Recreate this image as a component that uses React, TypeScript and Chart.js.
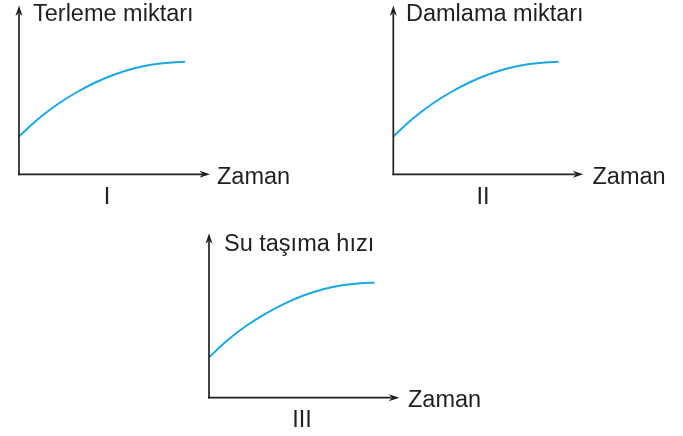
import React, { useEffect, useRef } from "react";
import { Chart, registerables } from "chart.js";

Chart.register(...registerables);

// ---- data ----
const zaman = [0, 1, 2, 3, 4, 5, 6, 7, 8, 8.7];
const terleme = [37.8, 55.3, 69.8, 81.8, 91.8, 99.8, 105.8, 109.8, 111.8, 112.5];
const damlama = [37.8, 55.3, 69.8, 81.8, 91.8, 99.8, 105.8, 109.8, 111.8, 112.5];
const suTasima = [40.4, 57.9, 72.4, 84.4, 94.4, 102.4, 108.4, 112.4, 114.4, 115];
const xAxisLabel = "Zaman";
const yLabels = ["Terleme miktarı", "Damlama miktarı", "Su taşıma hızı"];
const numerals = ["I", "II", "III"];
const series = [terleme, damlama, suTasima];

// ---- layout (positions / styles) ----
type Panel = {
  left: number; top: number; width: number; height: number;
  pad: { left: number; top: number; right: number; bottom: number };
  xMax: number; yMax: number;
  yLabelX: number; yLabelY: number;
  zamanX: number; zamanY: number;
  numX: number; numY: number;
};

const panels: Panel[] = [
  {
    left: 0, top: 0, width: 300, height: 215,
    pad: { left: 19, top: 5.5, right: 90, bottom: 40.7 },
    xMax: 10, yMax: 168.8,
    yLabelX: 33, yLabelY: 21,
    zamanX: 217, zamanY: 183.5,
    numX: 107, numY: 204,
  },
  {
    left: 370, top: 0, width: 313, height: 215,
    pad: { left: 23.3, top: 5.5, right: 99.7, bottom: 40.7 },
    xMax: 10, yMax: 168.8,
    yLabelX: 36, yLabelY: 21,
    zamanX: 222.5, zamanY: 183.5,
    numX: 113, numY: 204,
  },
  {
    left: 190, top: 220, width: 310, height: 216,
    pad: { left: 19, top: 13.3, right: 100.7, bottom: 38.3 },
    xMax: 10, yMax: 164.4,
    yLabelX: 34, yLabelY: 30.7,
    zamanX: 218, zamanY: 187.3,
    numX: 112, numY: 207.3,
  },
];

const INK = "#231f20";
const BLUE = "#1ba8e2";
const FONT = '23.5px "Liberation Sans", Arial, Helvetica, sans-serif';

function arrow(ctx: CanvasRenderingContext2D, tx: number, ty: number, dx: number, dy: number) {
  // tip at (tx,ty); (dx,dy) unit direction of arrow pointing
  const len = 10.5;
  const half = 3.5;
  const notch = 3;
  const px = -dy, py = dx;
  const bx = tx - dx * len, by = ty - dy * len;
  ctx.beginPath();
  ctx.moveTo(tx, ty);
  ctx.lineTo(bx + px * half, by + py * half);
  ctx.lineTo(bx + dx * notch, by + dy * notch);
  ctx.lineTo(bx - px * half, by - py * half);
  ctx.closePath();
  ctx.fill();
}

function makeDecor(i: number) {
  const p = panels[i];
  return {
    id: "decor" + i,
    afterDraw(chart: any) {
      const { ctx, chartArea } = chart;
      const { left, right, top, bottom } = chartArea;
      ctx.save();
      ctx.strokeStyle = INK;
      ctx.fillStyle = INK;
      ctx.lineWidth = 1.7;
      // y axis
      ctx.beginPath();
      ctx.moveTo(left, bottom + 0.85);
      ctx.lineTo(left, top + 8);
      ctx.stroke();
      arrow(ctx, left, top, 0, -1);
      // x axis
      ctx.beginPath();
      ctx.moveTo(left - 0.85, bottom);
      ctx.lineTo(right - 8, bottom);
      ctx.stroke();
      arrow(ctx, right, bottom, 1, 0);
      // texts
      ctx.font = FONT;
      ctx.textBaseline = "alphabetic";
      ctx.textAlign = "left";
      ctx.fillText(yLabels[i], p.yLabelX, p.yLabelY);
      ctx.fillText(xAxisLabel, p.zamanX, p.zamanY);
      ctx.textAlign = "center";
      ctx.fillText(numerals[i], p.numX, p.numY);
      ctx.restore();
    },
  };
}

export default function App() {
  const refs = [useRef<HTMLCanvasElement>(null), useRef<HTMLCanvasElement>(null), useRef<HTMLCanvasElement>(null)];

  useEffect(() => {
    const charts: Chart[] = [];
    panels.forEach((p, i) => {
      const canvas = refs[i].current;
      if (!canvas) return;
      const ys = series[i];
      const chart = new Chart(canvas, {
        type: "line",
        data: {
          datasets: [
            {
              data: zaman.map((x, k) => ({ x, y: ys[k] })),
              borderColor: BLUE,
              borderWidth: 2,
              pointRadius: 0,
              fill: false,
              cubicInterpolationMode: "monotone",
              clip: false as any,
            },
          ],
        },
        options: {
          animation: false,
          responsive: false,
          maintainAspectRatio: false,
          devicePixelRatio: 1,
          layout: { padding: p.pad },
          plugins: { legend: { display: false }, tooltip: { enabled: false }, title: { display: false } },
          scales: {
            x: { type: "linear", min: 0, max: p.xMax, display: false },
            y: { type: "linear", min: 0, max: p.yMax, display: false },
          },
        },
        plugins: [makeDecor(i)],
      });
      charts.push(chart);
    });
    return () => charts.forEach((c) => c.destroy());
  }, []);

  return (
    <div style={{ position: "absolute", left: 0, top: 0, width: 683, height: 436, background: "#fff" }}>
      {panels.map((p, i) => (
        <canvas
          key={i}
          ref={refs[i]}
          width={p.width}
          height={p.height}
          style={{ position: "absolute", left: p.left, top: p.top, width: p.width, height: p.height }}
        />
      ))}
    </div>
  );
}
